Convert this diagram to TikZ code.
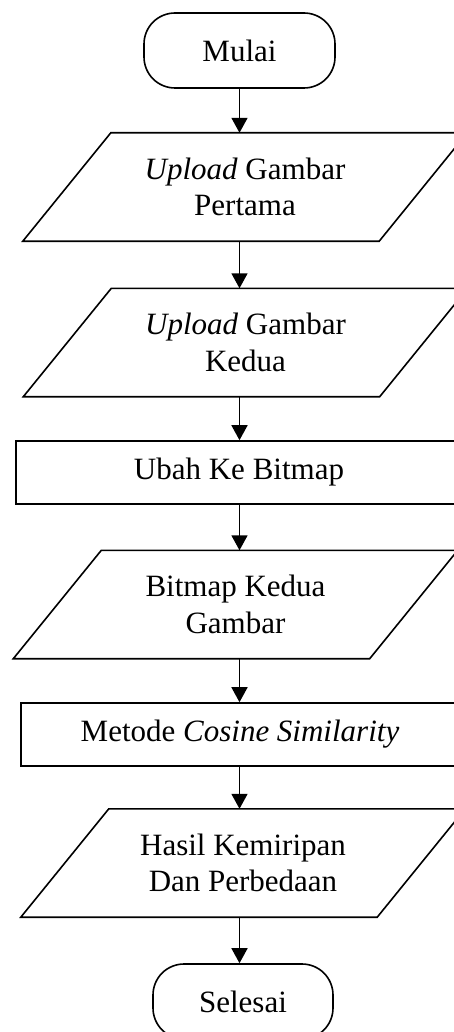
\documentclass[tikz,border=0pt]{standalone}
\usepackage{fontspec}
\setmainfont{Liberation Serif}
\usetikzlibrary{arrows.meta}

\begin{document}
\begin{tikzpicture}[x=1pt, y=-1pt,
  every node/.style={font=\fontsize{31}{36.5}\selectfont, align=center, inner sep=0pt},
  terminal/.style={draw, line width=1.6pt, rounded corners=31pt, minimum height=75pt},
  iobox/.style={minimum width=356pt, minimum height=108pt},
  procbox/.style={draw, line width=1.6pt, minimum height=63pt},
  flow/.style={line width=1.6pt, -{Triangle[length=15pt, width=16pt]}}
]
\useasboundingbox (0,0) rectangle (454,1032);
\clip (0,0) rectangle (454,1032);

% flowchart steps
\node[terminal, minimum width=191pt] (start) at (239.5,50.5) {Mulai};
\node[iobox] (in1) at (245,187) {\textit{Upload} Gambar\\Pertama};
\node[iobox] (in2) at (245.5,342.5) {\textit{Upload} Gambar\\Kedua};
\node[procbox, minimum width=446pt] (conv) at (239,472.5) {Ubah Ke Bitmap};
\node[iobox] (in3) at (235.5,604.5) {Bitmap Kedua\\Gambar};
\node[procbox, minimum width=438pt] (cos) at (240,734.5) {Metode \textit{Cosine Similarity}};
\node[iobox] (out) at (243,863) {Hasil Kemiripan\\Dan Perbedaan};
\node[terminal, minimum width=180pt] (stop) at (243,1001.5) {Selesai};

% input/output parallelograms around the text nodes
\foreach \n in {in1,in2,in3,out}
  \draw[line width=1.6pt, line join=miter]
    ([xshift=-44pt]\n.south west) -- ([xshift=-44pt]\n.south east)
    -- ([xshift=44pt]\n.north east) -- ([xshift=44pt]\n.north west) -- cycle;

% connectors, all in one vertical column
\draw[flow] (start.south) -- (start.south |- in1.north);
\draw[flow] (in1.south -| start) -- (in2.north -| start);
\draw[flow] (in2.south -| start) -- (conv.north -| start);
\draw[flow] (conv.south -| start) -- (in3.north -| start);
\draw[flow] (in3.south -| start) -- (cos.north -| start);
\draw[flow] (cos.south -| start) -- (out.north -| start);
\draw[flow] (out.south -| start) -- (stop.north -| start);
\end{tikzpicture}
\end{document}
